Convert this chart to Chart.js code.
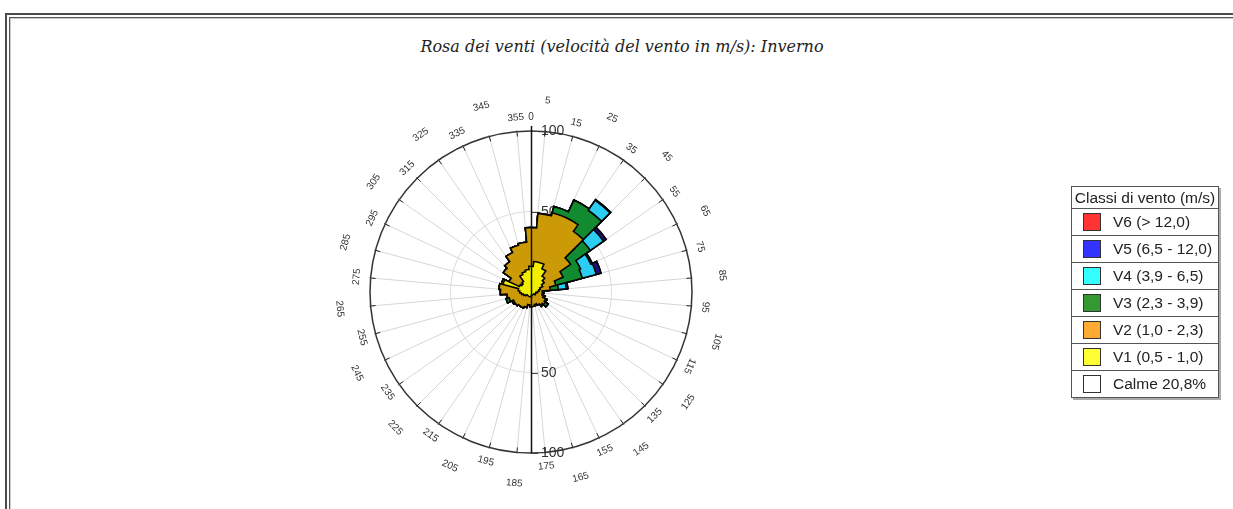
<!DOCTYPE html>
<html lang="it">
  <head>
    <meta charset="utf-8" />
    <title>Rosa dei venti - Inverno</title>
    <style>
      * {
        margin: 0;
        padding: 0;
      }
      body {
        width: 1233px;
        height: 509px;
        overflow: hidden;
        background: #fff;
        position: relative;
        font-family: "Liberation Sans", Arial, sans-serif;
      }
      .frame1 {
        position: absolute;
        left: 5px;
        top: 13px;
        width: 1300px;
        height: 600px;
        border: 2px solid #4a4a4a;
      }
      .frame2 {
        position: absolute;
        left: 9px;
        top: 17px;
        width: 1300px;
        height: 600px;
        border: 1px solid #555;
        box-shadow: inset 1px 1px 0 #c8c8c8;
      }
      .title {
        position: absolute;
        left: 0;
        top: 37px;
        width: 1244px;
        text-align: center;
        font: italic 16px "DejaVu Serif", serif;
        line-height: 20px;
        color: #222;
      }
      #rose {
        position: absolute;
        left: 0;
        top: 0;
      }
      #legend {
        position: absolute;
        left: 1071px;
        top: 186px;
        width: 146px;
        border: 1px solid #555;
        box-shadow: 2px 2px 0 #aaa;
        background: #fff;
        font-size: 15.5px;
        color: #222;
      }
      .lg-title {
        height: 21px;
        line-height: 21px;
        text-align: center;
        white-space: nowrap;
      }
      .lg-row {
        position: relative;
        height: 26px;
        border-top: 1px solid #555;
      }
      .lg-row .sw {
        position: absolute;
        left: 11px;
        top: 4px;
        width: 16px;
        height: 16px;
        border: 1px solid #333;
      }
      .lg-row span {
        position: absolute;
        left: 41px;
        top: 0;
        line-height: 26px;
        white-space: nowrap;
      }
    </style>
  </head>
  <body>
    <div class="frame1"></div>
    <div class="frame2"></div>
    <div class="title">Rosa dei venti (velocità del vento in m/s): Inverno</div>
    <canvas id="rose" width="1233" height="509"></canvas>
    <div id="legend"></div>

    <script src="https://cdn.jsdelivr.net/npm/chart.js/dist/chart.umd.min.js"></script>
    <script>
      // setup
      const directions = [
        0, 10, 20, 30, 40, 50, 60, 70, 80, 90, 100, 110, 120, 130, 140, 150,
        160, 170, 180, 190, 200, 210, 220, 230, 240, 250, 260, 270, 280, 290,
        300, 310, 320, 330, 340, 350,
      ];
      const angleTicks = [
        5, 15, 25, 35, 45, 55, 65, 75, 85, 95, 105, 115, 125, 135, 145, 155,
        165, 175, 185, 195, 205, 215, 225, 235, 245, 255, 265, 275, 285, 295,
        305, 315, 325, 335, 345, 355,
      ];
      const radialTicks = [50, 100];

      const classNames = [
        "V1 (0,5 - 1,0)",
        "V2 (1,0 - 2,3)",
        "V3 (2,3 - 3,9)",
        "V4 (3,9 - 6,5)",
        "V5 (6,5 - 12,0)",
        "V6 (> 12,0)",
      ];
      const calmLabel = "Calme 20,8%";

      // frequency per direction sector, one list per speed class
      const v1 = [
        16, 19, 19, 16, 12, 10, 8, 6, 5, 4, 3, 3, 3, 2, 2, 2, 2, 2, 3, 3, 3, 3,
        3, 3, 4, 5, 6, 7, 8, 18, 8, 7, 8, 12, 13, 14,
      ];
      const v2 = [
        24, 30, 32, 35, 34, 20, 14, 10, 7, 3, 4, 5, 7, 9, 8, 7, 6, 7, 6, 5, 7, 8,
        8, 9, 8, 9, 9, 12, 12, 1, 7, 14, 15, 15, 17, 17,
      ];
      const v3 = [
        0, 0, 4, 12, 16, 15, 12, 17, 5, 1, 0, 1, 1, 2, 1, 0, 0, 0, 0, 0, 0, 0,
        0, 0, 1, 2, 0, 0, 0, 0, 0, 0, 0, 0, 0, 0,
      ];
      const v4 = [
        0, 0, 0, 0, 7.5, 10, 7, 9, 5, 0, 0, 0, 0, 0, 0, 0, 0, 0, 0, 0, 0, 0, 0,
        0, 0, 0, 0, 0, 0, 0, 0, 0, 0, 0, 0, 0,
      ];
      const v5 = [
        0, 0, 0, 0, 0.5, 2, 1, 3, 1, 0, 0, 0, 0, 0, 0, 0, 0, 0, 0, 0, 0, 0, 0,
        0, 0, 0, 0, 0, 0, 0, 0, 0, 0, 0, 0, 0,
      ];
      const v6 = [
        0, 0, 0, 0, 0, 0, 0, 0, 0, 0, 0, 0, 0, 0, 0, 0, 0, 0, 0, 0, 0, 0, 0, 0,
        0, 0, 0, 0, 0, 0, 0, 0, 0, 0, 0, 0,
      ];

      const series = [v1, v2, v3, v4, v5, v6];
      const fillColors = ["#f2ef00", "#cc9a06", "#128a30", "#2ccdf2", "#1d0f80", "#e02020"];
      const legendColors = ["#ffff33", "#ffaa33", "#339933", "#33ffff", "#3333ff", "#ff3333"];

      // stack the classes: each dataset holds the running total, drawn back to front
      let running = directions.map(() => 0);
      const datasets = series.map((vals, i) => {
        running = running.map((s, k) => s + vals[k]);
        return {
          label: classNames[i],
          data: running.slice(),
          backgroundColor: fillColors[i],
          borderColor: fillColors[i],
          borderWidth: 1,
        };
      });

      function labelRotation(deg) {
        const d = deg > 120 && deg < 270 ? deg - 180 : deg;
        return (d * Math.PI) / 180;
      }

      function drawRotated(ctx, text, x, y, rot) {
        ctx.save();
        ctx.translate(x, y);
        ctx.rotate(rot);
        ctx.fillText(text, 0, 0);
        ctx.restore();
      }

      const roseDecor = {
        id: "roseDecor",
        beforeDatasetsDraw(chart) {
          const r = chart.scales.r;
          const ctx = chart.ctx;
          ctx.save();
          ctx.strokeStyle = "#444";
          ctx.lineWidth = 1;
          ctx.fillStyle = "#333";
          ctx.font = '14px "Liberation Sans", Arial, sans-serif';
          ctx.textAlign = "left";
          ctx.textBaseline = "middle";
          radialTicks.forEach((v) => {
            const d = r.getDistanceFromCenterForValue(v);
            [-1, 1].forEach((s) => {
              const y = Math.round(r.yCenter + s * d) + 0.5;
              ctx.beginPath();
              ctx.moveTo(r.xCenter, y);
              ctx.lineTo(r.xCenter + 7, y);
              ctx.stroke();
              ctx.fillText(String(v), r.xCenter + 10, y);
            });
          });
          ctx.restore();
        },
        // black contour of each stacked class
        afterDatasetDraw(chart, args) {
          const ctx = chart.ctx;
          const arcs = args.meta.data;
          ctx.save();
          ctx.beginPath();
          arcs.forEach((el, k) => {
            const p = el.getProps(["x", "y", "startAngle", "endAngle", "outerRadius"]);
            const sx = p.x + p.outerRadius * Math.cos(p.startAngle);
            const sy = p.y + p.outerRadius * Math.sin(p.startAngle);
            if (k === 0) ctx.moveTo(sx, sy);
            else ctx.lineTo(sx, sy);
            ctx.arc(p.x, p.y, p.outerRadius, p.startAngle, p.endAngle);
          });
          ctx.closePath();
          ctx.strokeStyle = "#000";
          ctx.lineWidth = 1.6;
          ctx.stroke();
          ctx.restore();
        },
        afterDraw(chart) {
          const r = chart.scales.r;
          const ctx = chart.ctx;
          const cx = r.xCenter;
          const cy = r.yCenter;
          const R = r.drawingArea;
          ctx.save();
          ctx.strokeStyle = "#111";
          ctx.lineWidth = 1.5;
          ctx.beginPath();
          ctx.moveTo(cx + 0.5, cy - R - 5);
          ctx.lineTo(cx + 0.5, cy + R);
          ctx.stroke();

          ctx.lineWidth = 1;
          ctx.strokeStyle = "#222";
          ctx.fillStyle = "#333";
          ctx.font = '10px "Liberation Sans", Arial, sans-serif';
          ctx.textAlign = "center";
          ctx.textBaseline = "middle";
          angleTicks.forEach((deg, k) => {
            const a = ((deg - 90) * Math.PI) / 180;
            const c = Math.cos(a);
            const s = Math.sin(a);
            ctx.beginPath();
            ctx.moveTo(cx + (R - 5) * c, cy + (R - 5) * s);
            ctx.lineTo(cx + (R + 1) * c, cy + (R + 1) * s);
            ctx.stroke();
            const dist = R + (k % 2 === 0 ? 31 : 14);
            drawRotated(ctx, String(deg), cx + dist * c, cy + dist * s, labelRotation(deg));
          });
          drawRotated(ctx, "0", cx, cy - R - 14, 0);
          ctx.restore();
        },
      };

      // config
      const config = {
        type: "polarArea",
        data: {
          labels: directions.map(String),
          datasets,
        },
        options: {
          responsive: false,
          animation: false,
          devicePixelRatio: 1,
          events: [],
          layout: {
            padding: { left: 370, right: 541, top: 131, bottom: 56 },
          },
          scales: {
            r: {
              min: 0,
              max: 100,
              startAngle: -5,
              ticks: { display: false, stepSize: 50 },
              grid: {
                circular: true,
                color: (ctx) => (ctx.tick && ctx.tick.value === 100 ? "#333" : "#dcdcdc"),
                lineWidth: (ctx) => (ctx.tick && ctx.tick.value === 100 ? 1.5 : 1),
              },
              angleLines: { display: true, color: "#d6d6d6", lineWidth: 1 },
              pointLabels: { display: false },
            },
          },
          plugins: {
            legend: { display: false },
            tooltip: { enabled: false },
          },
        },
        plugins: [roseDecor],
      };

      const roseChart = new Chart(document.getElementById("rose"), config);

      // legend box, highest class first
      const legend = document.getElementById("legend");
      let html = '<div class="lg-title">Classi di vento (m/s)</div>';
      for (let i = classNames.length - 1; i >= 0; i--) {
        html +=
          '<div class="lg-row"><div class="sw" style="background:' +
          legendColors[i] +
          '"></div><span>' +
          classNames[i] +
          "</span></div>";
      }
      html +=
        '<div class="lg-row"><div class="sw" style="background:#fff"></div><span>' +
        calmLabel +
        "</span></div>";
      legend.innerHTML = html;
    </script>
  </body>
</html>
